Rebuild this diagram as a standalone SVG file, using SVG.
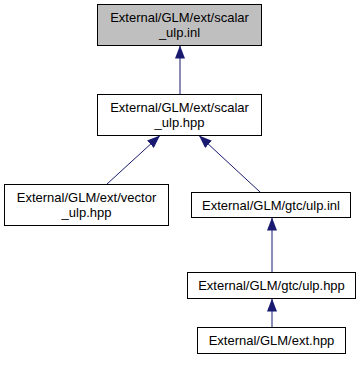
<svg xmlns="http://www.w3.org/2000/svg" width="364" height="380" viewBox="0 0 364 380">
  <style>
    .node rect { fill: #ffffff; stroke: #000000; stroke-width: 1; }
    .node.root rect { fill: #bfbfbf; }
    text { font-family: "Liberation Sans", Arial, sans-serif; font-size: 13px; fill: #000000; text-anchor: middle; }
    .edge { stroke: #191970; stroke-width: 1; fill: none; }
  </style>
  <defs>
    <marker id="arrow" markerWidth="13" markerHeight="10" refX="13" refY="5" orient="auto" markerUnits="userSpaceOnUse">
      <path d="M0,0 L13,5 L0,10 Z" fill="#191970"/>
    </marker>
  </defs>

  <g id="connectors">
    <line class="edge" x1="180" y1="94" x2="180" y2="45.5" marker-end="url(#arrow)"/>
    <line class="edge" x1="107" y1="184" x2="160" y2="135.5" marker-end="url(#arrow)"/>
    <line class="edge" x1="260" y1="192" x2="199" y2="135.5" marker-end="url(#arrow)"/>
    <line class="edge" x1="272" y1="272" x2="272" y2="217.5" marker-end="url(#arrow)"/>
    <line class="edge" x1="272" y1="327" x2="272" y2="298.5" marker-end="url(#arrow)"/>
  </g>

  <g id="node-scalar-ulp-inl" class="node root">
    <rect x="97.5" y="4.5" width="164" height="41"/>
    <text x="179.5" y="22">External/GLM/ext/scalar</text>
    <text x="179.5" y="37">_ulp.inl</text>
  </g>

  <g id="node-scalar-ulp-hpp" class="node">
    <rect x="97.5" y="94.5" width="164" height="41"/>
    <text x="179.5" y="111.5">External/GLM/ext/scalar</text>
    <text x="179.5" y="126.5">_ulp.hpp</text>
  </g>

  <g id="node-vector-ulp-hpp" class="node">
    <rect x="4.5" y="184.5" width="164" height="41"/>
    <text x="86.5" y="201.5">External/GLM/ext/vector</text>
    <text x="86.5" y="216.5">_ulp.hpp</text>
  </g>

  <g id="node-gtc-ulp-inl" class="node">
    <rect x="191.5" y="192.5" width="159" height="25"/>
    <text x="271" y="209.5">External/GLM/gtc/ulp.inl</text>
  </g>

  <g id="node-gtc-ulp-hpp" class="node">
    <rect x="187.5" y="272.5" width="168" height="26"/>
    <text x="271.5" y="290">External/GLM/gtc/ulp.hpp</text>
  </g>

  <g id="node-ext-hpp" class="node">
    <rect x="197.5" y="327.5" width="148" height="26"/>
    <text x="271.5" y="345">External/GLM/ext.hpp</text>
  </g>
</svg>
